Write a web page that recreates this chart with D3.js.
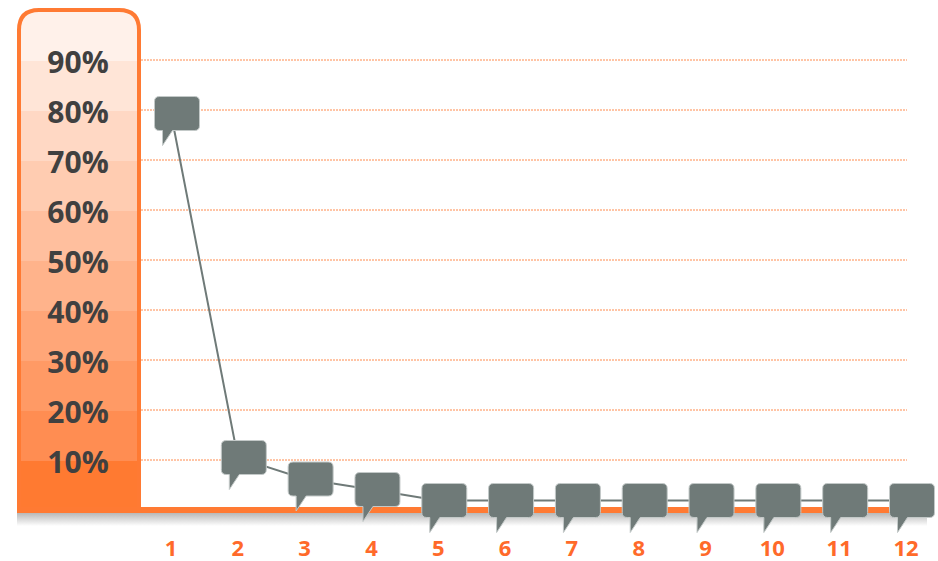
<!DOCTYPE html>
<html>
<head>
<meta charset="utf-8">
<script src="https://cdn.jsdelivr.net/npm/d3@7"></script>
<style>
  html, body { margin: 0; padding: 0; background: #fff; }
  svg { display: block; }
</style>
</head>
<body>
<div id="chart"></div>
<script>
// values (percent)
var categories = ["1", "2", "3", "4", "5", "6", "7", "8", "9", "10", "11", "12"];
var values = [79.3, 10.5, 6.2, 4.1, 1.9, 1.9, 1.9, 1.9, 1.9, 1.9, 1.9, 1.9];
var yTicks = [10, 20, 30, 40, 50, 60, 70, 80, 90];

var width = 938, height = 561;
var orange = "#ff7a33";
var grey = "#6f7a78";

var svg = d3.select("#chart").append("svg")
	.attr("width", width)
	.attr("height", height)
	.style("font-family", "'Open Sans', sans-serif");

var x = d3.scalePoint().domain(categories).range([171, 906]);
var y = d3.scaleLinear().domain([0, 100]).range([510, 10]);

var defs = svg.append("defs");

// grey shadow under the base line
var shadow = defs.append("linearGradient")
	.attr("id", "shadow")
	.attr("x1", 0).attr("y1", 0).attr("x2", 0).attr("y2", 1);
shadow.append("stop").attr("offset", "0%").attr("stop-color", "#b8b8b8");
shadow.append("stop").attr("offset", "100%").attr("stop-color", "#ffffff");

svg.append("rect")
	.attr("x", 17)
	.attr("y", y(0) + 3)
	.attr("width", 910)
	.attr("height", 13)
	.attr("fill", "url(#shadow)");

// left panel with the percent bands
var panelLeft = 19, panelRight = 139, r = 20;
var panelPath = "M" + panelLeft + "," + (y(0) + 1)
	+ "V" + (y(100) + r)
	+ "Q" + panelLeft + "," + y(100) + " " + (panelLeft + r) + "," + y(100)
	+ "H" + (panelRight - r)
	+ "Q" + panelRight + "," + y(100) + " " + panelRight + "," + (y(100) + r)
	+ "V" + (y(0) + 1) + "Z";

defs.append("clipPath").attr("id", "panelClip")
	.append("path").attr("d", panelPath);

var bandColor = d3.interpolateRgb("#fff1ea", "#ff8d52");
var bands = d3.range(0, 100, 10);

svg.append("g")
	.attr("clip-path", "url(#panelClip)")
	.selectAll("rect")
	.data(bands)
	.join("rect")
		.attr("x", panelLeft)
		.attr("y", function(d) { return y(d + 10); })
		.attr("width", panelRight - panelLeft)
		.attr("height", function(d) { return y(d) - y(d + 10) + 1; })
		.attr("fill", function(d) {
			if (d == 0) { return "#ff7a31"; }
			return bandColor((90 - d) / 80);
		});

svg.append("path")
	.attr("d", panelPath)
	.attr("fill", "none")
	.attr("stroke", orange)
	.attr("stroke-width", 4);

// dotted grid lines
svg.append("g")
	.selectAll("line")
	.data(yTicks)
	.join("line")
		.attr("x1", panelRight + 2)
		.attr("x2", 907)
		.attr("y1", function(d) { return y(d); })
		.attr("y2", function(d) { return y(d); })
		.attr("stroke", "#ff8a4c")
		.attr("stroke-width", 1)
		.attr("stroke-dasharray", "2,1");

// tick labels inside the panel
svg.append("g")
	.selectAll("text")
	.data(yTicks)
	.join("text")
		.attr("x", 78)
		.attr("y", function(d) { return y(d) + 13; })
		.attr("text-anchor", "middle")
		.attr("font-size", "30px")
		.attr("font-weight", 700)
		.attr("fill", "#404040")
		.text(function(d) { return d + "%"; });

// base line
svg.append("line")
	.attr("x1", panelLeft)
	.attr("x2", 912)
	.attr("y1", y(0))
	.attr("y2", y(0))
	.attr("stroke", orange)
	.attr("stroke-width", 6);

// category labels
svg.append("g")
	.selectAll("text")
	.data(categories)
	.join("text")
		.attr("x", function(d) { return x(d); })
		.attr("y", 556)
		.attr("text-anchor", "middle")
		.attr("font-size", "22px")
		.attr("font-weight", 700)
		.attr("fill", "#ff6a2a")
		.text(function(d) { return d; });

// connecting line
var points = categories.map(function(c, i) { return [x(c), y(values[i])]; });

svg.append("path")
	.datum(points)
	.attr("d", d3.line())
	.attr("fill", "none")
	.attr("stroke", grey)
	.attr("stroke-width", 2);

// speech bubble markers
var bw = 45, bh = 34;
function bubblePath(p) {
	var l = p[0] + 6 - bw / 2, t = p[1] - bh / 2;
	var rr = 5, b = t + bh, rt = l + bw;
	return "M" + (l + rr) + "," + t
		+ "H" + (rt - rr) + "Q" + rt + "," + t + " " + rt + "," + (t + rr)
		+ "V" + (b - rr) + "Q" + rt + "," + b + " " + (rt - rr) + "," + b
		+ "H" + (l + 18)
		+ "L" + (l + 8) + "," + (b + 15)
		+ "V" + b
		+ "H" + (l + rr) + "Q" + l + "," + b + " " + l + "," + (b - rr)
		+ "V" + (t + rr) + "Q" + l + "," + t + " " + (l + rr) + "," + t + "Z";
}

svg.append("g")
	.selectAll("path")
	.data(points)
	.join("path")
		.attr("d", bubblePath)
		.attr("fill", grey)
		.attr("stroke", "#c3c9c8")
		.attr("stroke-width", 1);
</script>
</body>
</html>
